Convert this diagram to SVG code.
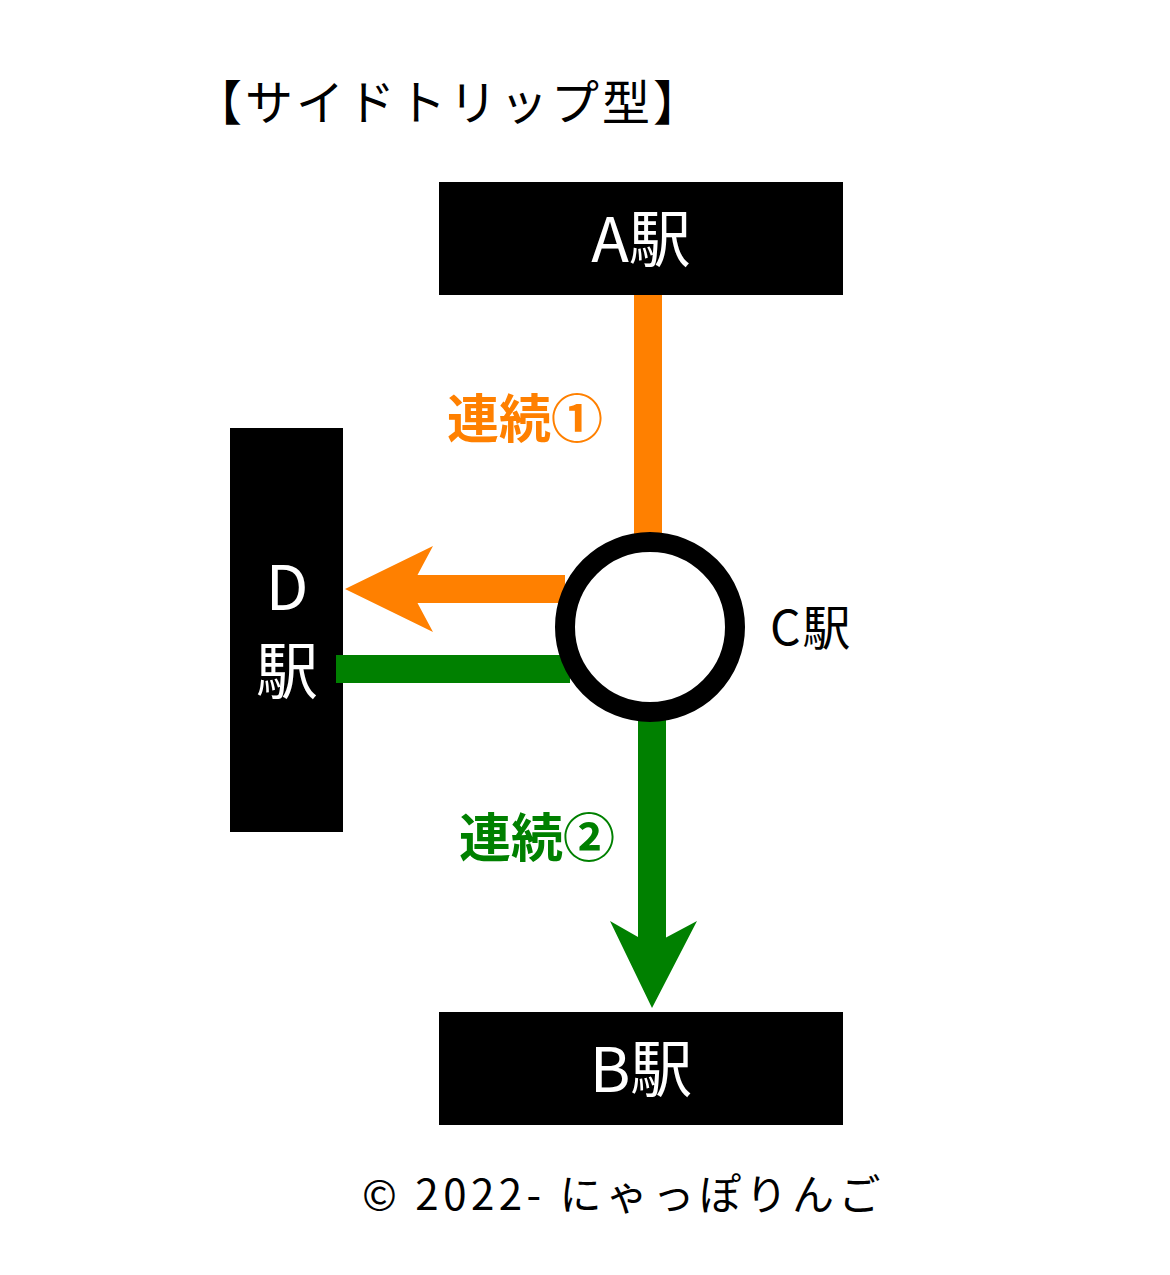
<svg xmlns="http://www.w3.org/2000/svg" width="1170" height="1275" viewBox="0 0 1170 1275">
<style>
text{font-family:"Noto Sans CJK JP","Noto Sans",sans-serif}
.box{fill:#000}
.w{fill:#fff;font-size:62px;text-anchor:middle}
.or{stroke:#ff8000;stroke-width:28;fill:none}
.gr{stroke:#008000;stroke-width:28;fill:none}
</style>
<rect width="1170" height="1275" fill="#fff"/>
<text x="194" y="120" font-size="48" letter-spacing="3">【サイドトリップ型】</text>
<g id="A"><rect class="box" x="439" y="182" width="404" height="113"/><text class="w" x="641" y="262">A駅</text></g>
<g id="B"><rect class="box" x="439" y="1012" width="404" height="113"/><text class="w" x="641" y="1092">B駅</text></g>
<g id="D"><rect class="box" x="230" y="428" width="113" height="404"/><text class="w" x="287" y="610">D</text><text class="w" x="287" y="694">駅</text></g>
<g id="connectors">
<line class="or" x1="648" y1="295" x2="648" y2="540"/>
<line class="or" x1="565" y1="589" x2="400" y2="589"/>
<polygon fill="#ff8000" points="345,589 433,546 410,589 433,632"/>
<line class="gr" x1="336" y1="669" x2="570" y2="669"/>
<line class="gr" x1="652" y1="710" x2="652" y2="950"/>
<polygon fill="#008000" points="652,1008 610,921 652,945 697,921"/>
</g>
<g id="C"><circle cx="650" cy="627" r="85" fill="#fff" stroke="#000" stroke-width="20"/><text x="770" y="645" font-size="48" letter-spacing="2">C駅</text></g>
<text x="447" y="438" font-size="52" font-weight="bold" fill="#ff8000">連続①</text>
<text x="459" y="857" font-size="52" font-weight="bold" fill="#008000">連続②</text>
<text x="362" y="1210" font-size="42" letter-spacing="4.5">© 2022- にゃっぽりんご</text>
</svg>
